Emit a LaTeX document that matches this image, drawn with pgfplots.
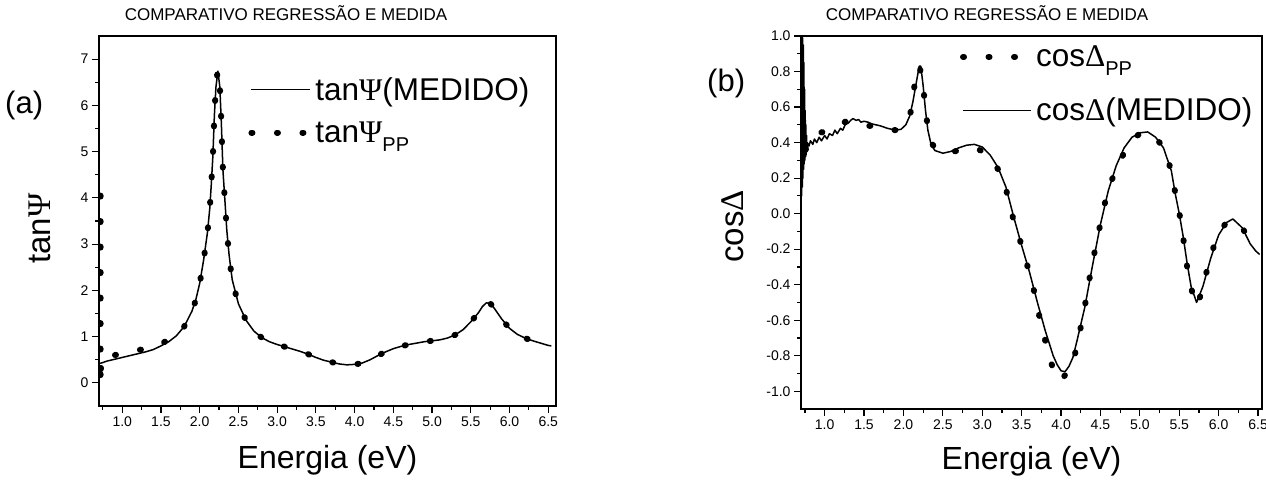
\documentclass[border=0pt]{standalone}
\usepackage{fontspec}
\setmainfont{Liberation Sans}
\newfontfamily\grk{Liberation Serif}
\usepackage{pgfplots}
\pgfplotsset{compat=1.18}
\newcommand{\Psig}{{\grk Ψ}}
\newcommand{\Delg}{{\grk Δ}}
\newcommand{\sub}[1]{\raisebox{-9pt}{\fontsize{20}{20}\selectfont #1}}

\pgfplotstableread{
x y
0.71 0.42
0.75 0.44
0.80 0.47
0.90 0.51
1.00 0.55
1.10 0.59
1.20 0.63
1.30 0.67
1.40 0.72
1.50 0.80
1.60 0.89
1.70 1.02
1.80 1.22
1.90 1.55
1.95 1.80
2.00 2.15
2.05 2.65
2.10 3.25
2.13 3.77
2.15 4.30
2.17 4.90
2.19 5.80
2.21 6.40
2.235 6.74
2.26 6.40
2.28 5.60
2.30 4.60
2.33 3.83
2.35 3.30
2.38 2.76
2.42 2.23
2.50 1.71
2.60 1.35
2.70 1.12
2.80 0.98
2.90 0.89
3.00 0.83
3.10 0.78
3.20 0.73
3.30 0.68
3.40 0.62
3.50 0.55
3.60 0.49
3.70 0.45
3.80 0.41
3.90 0.39
4.00 0.40
4.10 0.43
4.20 0.50
4.30 0.59
4.40 0.67
4.50 0.74
4.60 0.79
4.70 0.83
4.80 0.86
4.90 0.89
5.00 0.91
5.10 0.93
5.20 0.97
5.30 1.04
5.40 1.15
5.50 1.32
5.60 1.52
5.65 1.65
5.70 1.73
5.75 1.72
5.80 1.62
5.90 1.38
6.00 1.18
6.10 1.05
6.20 0.97
6.30 0.91
6.40 0.86
6.50 0.81
6.54 0.80
}\tanmed

\pgfplotstableread{
x y
0.72 4.05
0.72 2.00
0.72 0.00
0.725 0.30
0.73 0.55
0.80 0.57
0.90 0.60
1.00 0.63
1.10 0.67
1.20 0.71
1.30 0.73
1.40 0.78
1.50 0.85
1.60 0.93
1.70 1.05
1.80 1.22
1.90 1.55
1.95 1.80
2.00 2.15
2.05 2.65
2.10 3.25
2.13 3.77
2.15 4.30
2.17 4.90
2.19 5.80
2.21 6.40
2.235 6.76
2.26 6.40
2.28 5.60
2.30 4.60
2.33 3.83
2.35 3.30
2.38 2.76
2.42 2.23
2.50 1.71
2.60 1.35
2.70 1.12
2.80 0.98
2.90 0.89
3.00 0.83
3.10 0.78
3.20 0.73
3.30 0.68
3.40 0.62
3.50 0.55
3.60 0.49
3.70 0.45
3.80 0.41
3.90 0.39
4.00 0.40
4.10 0.43
4.20 0.50
4.30 0.59
4.40 0.67
4.50 0.74
4.60 0.79
4.70 0.83
4.80 0.86
4.90 0.89
5.00 0.91
5.10 0.93
5.20 0.97
5.30 1.04
5.40 1.15
5.50 1.32
5.60 1.52
5.65 1.65
5.70 1.74
5.75 1.72
5.80 1.62
5.90 1.38
6.00 1.18
6.10 1.05
6.20 0.97
6.30 0.91
6.40 0.86
6.50 0.81
}\tanpp

\pgfplotstableread{
x y
0.702 0.05
0.705 1.00
0.709 0.10
0.713 1.00
0.717 0.15
0.721 0.99
0.725 0.20
0.729 0.95
0.733 0.25
0.737 0.85
0.741 0.28
0.745 0.70
0.749 0.30
0.753 0.58
0.757 0.32
0.761 0.50
0.765 0.33
0.770 0.44
0.775 0.35
0.780 0.40
0.800 0.38
0.820 0.41
0.850 0.39
0.870 0.42
0.900 0.40
0.930 0.43
0.960 0.41
1.000 0.44
1.030 0.42
1.060 0.45
1.100 0.44
1.130 0.47
1.160 0.45
1.200 0.48
1.230 0.47
1.260 0.50
1.300 0.51
1.330 0.525
1.360 0.535
1.400 0.525
1.430 0.53
1.460 0.515
1.500 0.52
1.550 0.515
1.600 0.505
1.700 0.495
1.800 0.48
1.900 0.47
1.970 0.475
2.030 0.50
2.080 0.55
2.120 0.63
2.160 0.73
2.200 0.83
2.220 0.83
2.250 0.72
2.280 0.58
2.310 0.47
2.350 0.39
2.400 0.355
2.500 0.34
2.600 0.35
2.700 0.37
2.800 0.385
2.900 0.39
3.000 0.375
3.100 0.33
3.200 0.26
3.300 0.15
3.400 -0.02
3.500 -0.18
3.600 -0.33
3.700 -0.50
3.800 -0.66
3.900 -0.80
3.950 -0.85
4.000 -0.885
4.050 -0.89
4.100 -0.86
4.150 -0.81
4.200 -0.72
4.300 -0.53
4.400 -0.29
4.500 -0.06
4.600 0.13
4.700 0.27
4.800 0.37
4.900 0.43
5.000 0.455
5.100 0.46
5.200 0.43
5.300 0.37
5.400 0.24
5.450 0.11
5.500 0.00
5.550 -0.13
5.600 -0.28
5.650 -0.41
5.720 -0.50
5.800 -0.41
5.900 -0.25
6.000 -0.12
6.100 -0.05
6.180 -0.03
6.300 -0.08
6.400 -0.17
6.470 -0.21
6.520 -0.23
}\cosmed

\pgfplotstableread{
x y
0.76 0.36
0.80 0.42
0.90 0.45
1.06 0.47
1.28 0.52
1.43 0.50
1.66 0.49
1.90 0.47
2.00 0.49
2.09 0.57
2.14 0.72
2.20 0.83
2.25 0.71
2.29 0.55
2.34 0.41
2.45 0.35
2.58 0.345
2.75 0.36
2.90 0.37
3.00 0.35
3.11 0.30
3.20 0.25
3.28 0.18
3.36 0.02
3.45 -0.105
3.54 -0.246
3.63 -0.38
3.70 -0.53
3.78 -0.68
3.86 -0.82
3.96 -0.94
4.05 -0.91
4.15 -0.84
4.22 -0.70
4.29 -0.555
4.34 -0.415
4.40 -0.275
4.46 -0.14
4.53 0.007
4.60 0.137
4.72 0.27
4.86 0.39
5.00 0.45
5.13 0.45
5.25 0.40
5.35 0.32
5.42 0.18
5.49 0.03
5.54 -0.10
5.58 -0.24
5.63 -0.38
5.72 -0.52
5.80 -0.41
5.88 -0.27
5.98 -0.13
6.10 -0.05
6.20 -0.04
6.30 -0.08
6.41 -0.17
6.48 -0.21
}\cospp

\pgfplotsset{
  mystyle/.style={
    scale only axis,
    axis line style={line width=1.3pt},
    every tick/.style={line width=1.2pt, black},
    tick align=outside,
    major tick length=7pt, minor tick length=4pt,
    xtick pos=bottom, ytick pos=left,
    tick label style={font=\fontsize{14}{15}\selectfont},
    xlabel style={font=\fontsize{32}{36}\selectfont},
    ylabel style={font=\fontsize{33}{36}\selectfont},
    /pgf/number format/assume math mode=true,
    xtick={1,1.5,2,2.5,3,3.5,4,4.5,5,5.5,6,6.5},
    xticklabels={1.0,1.5,2.0,2.5,3.0,3.5,4.0,4.5,5.0,5.5,6.0,6.5},
    minor xtick={0.75,1.25,1.75,2.25,2.75,3.25,3.75,4.25,4.75,5.25,5.75,6.25},
    legend cell align=left,
    legend style={draw=none, fill=none, font=\fontsize{31.5}{36}\selectfont,
      /tikz/every even column/.append style={column sep=9pt}},
  },
  meas/.style={black, line width=1.5pt, line join=round},
  pp/.style={black, line width=6pt, line cap=round, dash pattern=on 1pt off 24.5pt},
}

\begin{document}
\begin{tikzpicture}[x=1pt,y=1pt]
\useasboundingbox (0,0) rectangle (1266,-483);

\node[font=\fontsize{17}{18}\selectfont, anchor=base] at (286,-20) {COMPARATIVO REGRESSÃO E MEDIDA};
\node[font=\fontsize{17}{18}\selectfont, anchor=base] at (987,-20) {COMPARATIVO REGRESSÃO E MEDIDA};
\node[font=\fontsize{31}{34}\selectfont, anchor=base west, inner sep=0pt] at (5,-113) {(a)};
\node[font=\fontsize{31}{34}\selectfont, anchor=base west, inner sep=0pt] at (707,-91) {(b)};

\begin{axis}[mystyle,
  at={(99pt,-406pt)}, anchor=south west,
  width=457pt, height=370pt,
  xmin=0.7, xmax=6.6, ymin=-0.5, ymax=7.5,
  ytick={0,1,2,3,4,5,6,7},
  minor ytick={0.5,1.5,2.5,3.5,4.5,5.5,6.5},
  xlabel={Energia (eV)},
  xlabel style={at={(axis description cs:0.5,-0.17)}, anchor=base},
  ylabel={tan\Psig},
  ylabel style={at={(axis description cs:-0.129,0.48)}, anchor=center},
  legend image code/.code={\draw[#1] (0pt,0pt) -- (59pt,0pt);},
  legend style={at={(axis description cs:0.32,0.90)}, anchor=north west, row sep=16pt},
]
\addplot[meas] table[x=x,y=y] {\tanmed};
\addlegendentry{tan\Psig(MEDIDO)}
\addplot[pp, smooth, tension=0.3] table[x=x,y=y] {\tanpp};
\addlegendentry{tan\Psig\sub{PP}}
\end{axis}

\begin{axis}[mystyle,
  at={(801pt,-409pt)}, anchor=south west,
  width=461pt, height=373pt,
  xmin=0.7, xmax=6.55, ymin=-1.1, ymax=1.0,
  ytick={-1,-0.8,-0.6,-0.4,-0.2,0,0.2,0.4,0.6,0.8,1},
  yticklabels={-1.0,-0.8,-0.6,-0.4,-0.2,0.0,0.2,0.4,0.6,0.8,1.0},
  minor ytick={-0.9,-0.7,-0.5,-0.3,-0.1,0.1,0.3,0.5,0.7,0.9},
  xlabel={Energia (eV)},
  xlabel style={at={(axis description cs:0.5,-0.161)}, anchor=base},
  ylabel={cos\Delg},
  ylabel style={at={(axis description cs:-0.147,0.49)}, anchor=center},
  legend image code/.code={\draw[#1] (0pt,0pt) -- (68pt,0pt);},
  legend style={at={(axis description cs:0.338,0.985)}, anchor=north west, row sep=26pt},
]
\addplot[pp, smooth, tension=0.3] table[x=x,y=y] {\cospp};
\addlegendentry{cos\Delg\sub{PP}}
\addplot[meas] table[x=x,y=y] {\cosmed};
\addlegendentry{cos\Delg(MEDIDO)}
\end{axis}
\end{tikzpicture}
\end{document}
